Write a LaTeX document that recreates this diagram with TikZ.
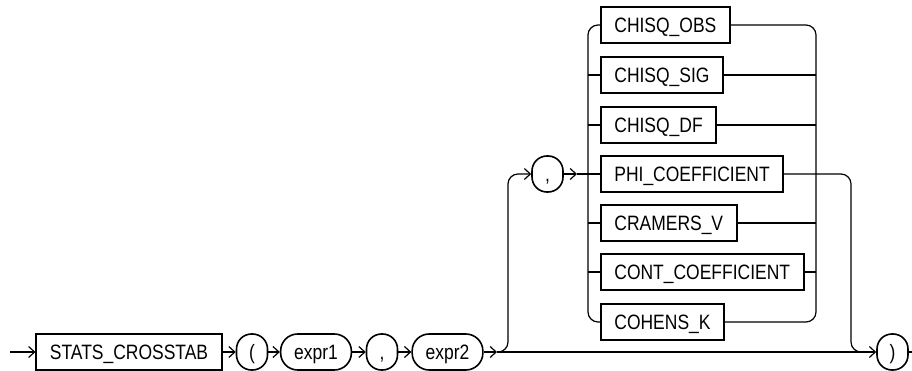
\documentclass[tikz,border=0pt]{standalone}
\usepackage{fontspec}
\setmainfont{Liberation Sans}[FakeStretch=0.84]
\usetikzlibrary{arrows.meta}
\begin{document}
\begin{tikzpicture}[x=1pt,y=-1pt,
  font=\fontsize{20.8}{24}\selectfont,
  kw/.style={draw, line width=1.8pt, minimum height=36pt, inner xsep=13.5pt, text height=15pt, text depth=0pt},
  tc/.style={draw, line width=1.6pt, rounded corners=15pt, minimum height=36pt, minimum width=31pt, inner xsep=2pt, text height=15pt, text depth=0pt},
  te/.style={draw, line width=1.6pt, rounded corners=17pt, minimum height=36pt, inner xsep=13.5pt, text height=15pt, text depth=0pt},
  ln/.style={line width=1.2pt},
  tipa/.style={-{Straight Barb[length=6pt,width=11pt]}},
  ar/.style={ln, tipa},
  br/.style={ln, rounded corners=10pt}]
\useasboundingbox (0,0) rectangle (912,371);

% main line nodes
\node[kw] (stats) at (129,352) {STATS\_CROSSTAB};
\node[tc] (lp) at (252,352) {(};
\node[te] (e1) at (316,352) {expr1};
\node[tc] (c1) at (382,352) {,};
\node[te] (e2) at (447.5,352) {expr2};
\node[tc] (rp) at (892.5,352) {)};
\node[tc] (c2) at (547.5,174) {,};

% choice group
\node[kw,anchor=west] (obs)  at (600,25)  {CHISQ\_OBS};
\node[kw,anchor=west] (sig)  at (600,75)  {CHISQ\_SIG};
\node[kw,anchor=west] (df)   at (600,125) {CHISQ\_DF};
\node[kw,anchor=west] (phi)  at (600,174) {PHI\_COEFFICIENT};
\node[kw,anchor=west] (cra)  at (600,223) {CRAMERS\_V};
\node[kw,anchor=west] (cont) at (600,272) {CONT\_COEFFICIENT};
\node[kw,anchor=west] (coh)  at (600,322) {COHENS\_K};

% coordinates
\coordinate (start) at (10,352);
\coordinate (j1) at (497,352);
\coordinate (lb) at (508,174);
\coordinate (cin) at (577,174);
\coordinate (rb) at (851,352);
\coordinate (rj) at (866,352);
\coordinate (fin) at (912,352);
\coordinate (lmid) at (588,174);
\coordinate (rmid) at (816,174);

% main line
\draw[ar] (start) -- (stats);
\draw[ar] (stats) -- (lp);
\draw[ar] (lp) -- (e1);
\draw[ar] (e1) -- (c1);
\draw[ar] (c1) -- (e2);
\draw[ar] (e2) -- (j1);
\draw[ar] (j1) -- (rp);
\draw[ln] (rp) -- (fin);

% upper branch
\draw[br,tipa] (j1) -| (lb) -- (c2.west);
\draw[ar] (c2) -- (cin);
\draw[ln] (cin) -- (phi.west);
\draw[br] (phi.east) -| (rb) -- (rj);

% brackets
\draw[br] (obs.west) -| (lmid) |- (coh.west);
\draw[br] (obs.east) -| (rmid) |- (coh.east);
\draw[ln] (sig.west -| lmid) -- (sig.west);
\draw[ln] (df.west -| lmid) -- (df.west);
\draw[ln] (cra.west -| lmid) -- (cra.west);
\draw[ln] (cont.west -| lmid) -- (cont.west);
\draw[ln] (sig.east) -- (sig.east -| rmid);
\draw[ln] (df.east) -- (df.east -| rmid);
\draw[ln] (cra.east) -- (cra.east -| rmid);
\draw[ln] (cont.east) -- (cont.east -| rmid);
\end{tikzpicture}
\end{document}
